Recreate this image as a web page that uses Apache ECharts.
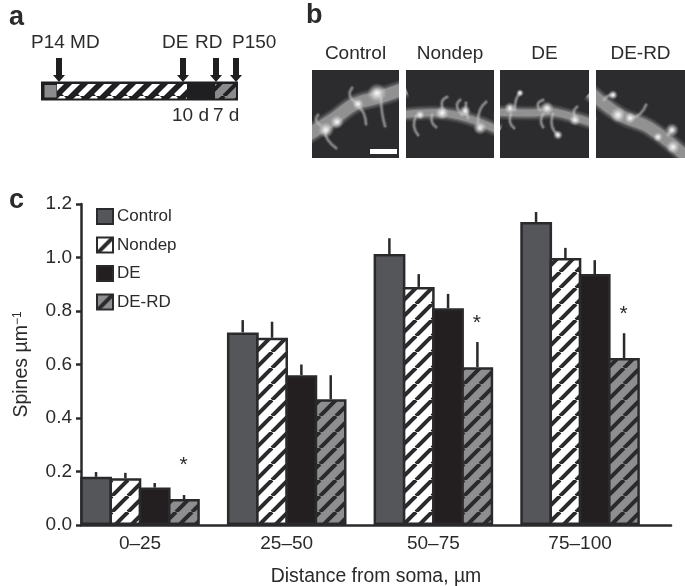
<!DOCTYPE html>
<html><head><meta charset="utf-8">
<style>html,body{margin:0;background:#fff}#c{width:685px;height:586px}</style>
<script src="https://cdn.jsdelivr.net/npm/echarts@6/dist/echarts.min.js"></script></head>
<body><div id="c"></div>
<script>
const categories = ['0–25','25–50','50–75','75–100'];
const yTicks = [0,0.2,0.4,0.6,0.8,1.0,1.2];
const control = [0.18,0.72,1.013,1.133];
const nondep  = [0.175,0.70,0.89,0.998];
const de      = [0.14,0.56,0.81,0.938];
const deRd    = [0.097,0.47,0.59,0.624];
const controlErr = [0.198,0.766,1.072,1.17];
const nondepErr  = [0.195,0.76,0.938,1.036];
const deErr      = [0.157,0.60,0.864,0.99];
const deRdErr    = [0.112,0.56,0.684,0.717];
const stars = [0.232,null,0.762,0.796];

const INK='#2a2a2c', FONT='"Liberation Sans",Arial,sans-serif';
const chart = echarts.init(document.getElementById('c'),null,{renderer:'canvas',width:685,height:586});

function stripes(bg,fg,period,w){
  const c=document.createElement('canvas');c.width=c.height=period;
  const g=c.getContext('2d');g.fillStyle=bg;g.fillRect(0,0,period,period);
  g.strokeStyle=fg;g.lineWidth=w;
  for(const o of [-period,0,period]){g.beginPath();g.moveTo(o,period);g.lineTo(o+period,0);g.stroke();}
  return {image:c,repeat:'repeat'};
}
const hatchW=stripes('#fff',INK,16,4), hatchG=stripes('#8e8e90',INK,16,4);

const groupsDef=[['Control',control,controlErr,'#55565a'],['Nondep',nondep,nondepErr,hatchW],['DE',de,deErr,'#231f20'],['DE-RD',deRd,deRdErr,hatchG]];
const barSeries=groupsDef.map(([name,vals,,color])=>({
  name,type:'bar',xAxisIndex:0,yAxisIndex:0,data:vals,barWidth:31.8,barGap:'-8%',z:3,
  itemStyle:{color,borderColor:INK,borderWidth:2.5}
}));
const errRows=[];
groupsDef.forEach(([, vals,errs],s)=>vals.forEach((v,i)=>errRows.push([i,v,errs[i],s])));
const errSeries={type:'custom',xAxisIndex:0,yAxisIndex:0,z:2,silent:true,data:errRows,
  encode:{x:0,y:[1,2]},
  renderItem(p,api){
    const bw=api.size([1,0])[0]*0.2, off=(api.value(3)-1.5)*bw;
    const a=api.coord([api.value(0),api.value(1)]), b=api.coord([api.value(0),api.value(2)]);
    return {type:'line',shape:{x1:a[0]+off,y1:a[1],x2:a[0]+off,y2:b[1]},style:{stroke:INK,lineWidth:2.5}};
  }};
const starRows=stars.map((v,i)=>v==null?null:[i,v]).filter(Boolean);
const starSeries={type:'custom',xAxisIndex:0,yAxisIndex:0,z:4,silent:true,data:starRows,encode:{x:0,y:1},
  renderItem(p,api){
    const bw=api.size([1,0])[0]*0.2, a=api.coord([api.value(0),api.value(1)]);
    return {type:'text',style:{x:a[0]+1.5*bw-0.5,y:a[1]+2,text:'*',fill:INK,font:'21px '+FONT,align:'center',verticalAlign:'middle'}};
  }};

// ---- panel decoration (schematic and micrograph panels) ----
const gfx=[];
const T=(text,x,y,o={})=>gfx.push({type:'text',silent:true,style:{x,y,text,fill:'#2b2b2d',font:(o.bold?'bold ':'')+(o.size||19)+'px '+FONT,align:o.align||'left',verticalAlign:'middle'}});
const R=(x,y,w,h,fill)=>gfx.push({type:'rect',silent:true,shape:{x,y,width:w,height:h},style:{fill}});
T('a',9,18,{size:27,bold:true});T('b',306,16,{size:27,bold:true});T('c',9,201,{size:27,bold:true});
// schematic
R(41,81.5,197,19,'#1f1f21');R(44.5,85,12,12.5,'#8b8b8d');
R(57,84,130,14.5,stripes('#1f1f21','#fff',16,5.5));
R(215,84,21,14.5,stripes('#8b8b8d','#1f1f21',16,4));
[59,183,216,236].forEach(x=>gfx.push({type:'polygon',silent:true,shape:{points:[[x-3,58],[x+3,58],[x+3,75],[x+6,75],[x,82],[x-6,75],[x-3,75]]},style:{fill:'#1f1f21'}}));
T('P14 MD',31,43);T('DE',162,43);T('RD',195,43);T('P150',232,43);T('10 d',172,116);T('7 d',213,116);
// micrographs
const panels=[
 {x:312,w:87,label:'Control',d:[[306,136],[335,118],[355,104],[380,97],[406,88]],dw:12,
  spines:[[[358,104],[350,96],[352,88]],[[360,108],[364,114],[366,124]],[[381,98],[382,112],[385,126]],[[325,132],[328,140],[336,148]],[[320,125],[316,120],[318,115]]],
  spots:[[326,130,8],[337,122,7],[358,104,6],[377,93,10]]},
 {x:406,w:88,label:'Nondep',d:[[400,115],[440,113],[467,118],[500,131]],dw:7,
  spines:[[[444,112],[442,102],[447,97]],[[462,115],[457,106],[460,100]],[[478,122],[480,110],[486,102]],[[416,116],[414,126],[418,135]],[[432,115],[432,122],[436,127]],[[468,118],[466,110],[466,103]]],
  spots:[[442,113,7],[465,111,6],[480,128,7],[420,115,5]]},
 {x:500,w:89,label:'DE',d:[[494,112],[533,113],[553,112],[595,124]],dw:7,
  spines:[[[515,110],[516,100],[520,93]],[[540,110],[538,104],[543,100]],[[575,117],[574,111],[577,107]],[[511,114],[510,122],[514,128]],[[543,114],[541,121],[543,127]],[[553,114],[552,126],[558,135]]],
  spots:[[547,108,7],[510,108,6],[575,120,6],[558,135,5],[520,93,4]]},
 {x:596,w:89,label:'DE-RD',d:[[590,92],[620,115],[650,128],[690,160]],dw:11,
  spines:[[[604,100],[608,96],[613,95]],[[632,118],[640,114],[646,105]],[[668,135],[672,130]]],
  spots:[[618,115,8],[630,118,6],[673,147,7],[658,137,5],[672,130,7],[613,95,5]]}
];
panels.forEach(p=>R(p.x,70,p.w,88,'#2c2c2e'));
panels.forEach(p=>{
  [[8,.10],[5,.14],[2.5,.2],[0,.35]].forEach(([g,al])=>gfx.push({type:'polyline',silent:true,shape:{points:p.d,smooth:0.4},style:{stroke:'rgba(215,215,215,'+al+')',lineWidth:p.dw+g,lineCap:'butt',fill:null}}));
  p.spines.forEach(s=>[[3,.12],[1.5,.2],[0,.35]].forEach(([g,al])=>gfx.push({type:'polyline',silent:true,shape:{points:s,smooth:0.5},style:{stroke:'rgba(200,200,200,'+al+')',lineWidth:2+g,fill:null,lineCap:'round'}})));
  p.spots.forEach(([x,y,r])=>gfx.push({type:'circle',silent:true,shape:{cx:x,cy:y,r},style:{fill:{type:'radial',x:.5,y:.5,r:.5,colorStops:[{offset:0,color:'rgba(255,255,255,.95)'},{offset:.35,color:'rgba(240,240,240,.7)'},{offset:1,color:'rgba(200,200,200,0)'}]}}}));
});
// white masks trim the glow to the panel edges
R(300,60,12,108,'#fff');R(399,60,7,108,'#fff');R(494,60,6,108,'#fff');R(589,60,7,108,'#fff');R(685,60,10,108,'#fff');
R(300,60,390,10,'#fff');R(300,158,390,10,'#fff');
panels.forEach(p=>T(p.label,p.x+p.w/2,54,{align:'center'}));
R(370,149,27,5,'#fff');

chart.setOption({
  animation:false,backgroundColor:'#fff',textStyle:{fontFamily:FONT},
  grid:[{left:66.7,width:586.7,top:204,height:321,outerBoundsMode:'none'},{left:81,width:590,top:204,height:321,outerBoundsMode:'none'}],
  xAxis:[
   {type:'category',gridIndex:0,data:categories,axisLine:{show:false},axisTick:{show:false},
    axisLabel:{color:INK,fontSize:19,fontFamily:FONT,margin:9}},
   {type:'value',gridIndex:1,min:0,max:1,axisLabel:{show:false},axisTick:{show:false},splitLine:{show:false},
    axisLine:{show:true,lineStyle:{color:INK,width:2.5}},z:5,
    name:'Distance from soma, µm',nameLocation:'middle',nameGap:42,nameTextStyle:{color:INK,fontSize:19.4,fontFamily:FONT}}
  ],
  yAxis:[
   {type:'value',gridIndex:0,min:0,max:1.2,interval:0.2,show:false},
   {type:'value',gridIndex:1,min:0,max:1.2,interval:0.2,splitLine:{show:false},
    axisLine:{show:true,onZero:false,lineStyle:{color:INK,width:2.5}},
    axisTick:{show:true,length:5,lineStyle:{color:INK,width:2.5}},
    axisLabel:{color:INK,fontSize:19,fontFamily:FONT,margin:9,formatter:v=>yTicks.find(t=>Math.abs(t-v)<1e-6).toFixed(1)},
    name:'Spines µm{s|−1}',nameLocation:'middle',nameGap:49,
    nameTextStyle:{color:INK,fontSize:19.5,fontFamily:FONT,rich:{s:{fontSize:12,fontFamily:FONT,color:INK,verticalAlign:'top',padding:[0,0,8,0]}}}}
  ],
  legend:{show:true,orient:'vertical',left:91,top:203,itemWidth:16,itemHeight:15,itemGap:11.5,
    data:groupsDef.map(g=>g[0]),selectedMode:false,icon:'rect',
    textStyle:{color:INK,fontSize:17,fontFamily:FONT,padding:[0,0,0,-1]}},
  series:[...barSeries,errSeries,starSeries],
  graphic:{elements:gfx}
});
</script></body></html>
